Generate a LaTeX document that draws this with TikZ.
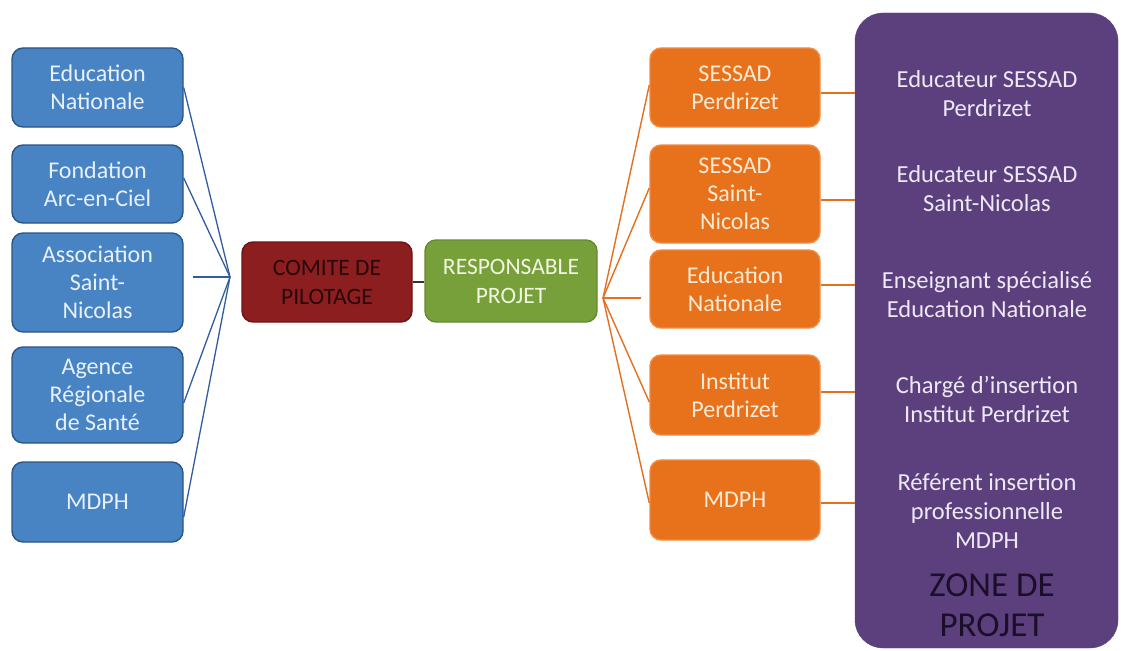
\documentclass[tikz,border=0pt]{standalone}
\usepackage{fontspec}
\setmainfont{Carlito}
\definecolor{bfill}{RGB}{72,132,196}
\definecolor{bdraw}{RGB}{44,84,134}
\definecolor{btext}{RGB}{232,240,248}
\definecolor{rfill}{RGB}{140,30,32}
\definecolor{rdraw}{RGB}{110,20,22}
\definecolor{rtext}{RGB}{40,8,8}
\definecolor{gfill}{RGB}{120,160,58}
\definecolor{gtext}{RGB}{240,246,224}
\definecolor{ofill}{RGB}{232,114,28}
\definecolor{odraw}{RGB}{240,140,70}
\definecolor{otext}{RGB}{252,234,212}
\definecolor{pfill}{RGB}{92,64,126}
\definecolor{ptext}{RGB}{238,232,244}
\definecolor{ztext}{RGB}{26,14,40}
\definecolor{bline}{RGB}{48,92,160}
\definecolor{oline}{RGB}{226,112,32}
\begin{document}
\begin{tikzpicture}[x=1pt,y=-1pt,
  box/.style={rounded corners=11pt, line width=1.4pt, align=center, inner sep=0pt,
    font=\fontsize{24}{28}\selectfont},
  bluebox/.style={box, fill=bfill, draw=bdraw, text=btext, minimum width=171pt},
  redbox/.style={box, fill=rfill, draw=rdraw, text=rtext, minimum width=170pt, minimum height=80pt,
    font=\fontsize{23.5}{29}\selectfont},
  greenbox/.style={box, fill=gfill, draw=gfill!85!black, text=gtext, minimum width=172pt, minimum height=82pt,
    font=\fontsize{23.5}{29}\selectfont},
  orangebox/.style={box, fill=ofill, draw=odraw, text=otext, minimum width=170pt},
  ptxt/.style={align=center, text=ptext, font=\fontsize{24.5}{29}\selectfont, inner sep=0pt},
  bconn/.style={draw=bline, line width=1.3pt},
  oconn/.style={draw=oline, line width=1.4pt},
]
\useasboundingbox (0,0) rectangle (1126,650);

% left column
\node[bluebox, minimum height=79pt] (b1) at (97.5,87.5) {Education\\Nationale};
\node[bluebox, minimum height=78pt] (b2) at (97.5,184) {Fondation\\Arc-en-Ciel};
\node[bluebox, minimum height=99pt] (b3) at (97.5,282.5) {Association\\Saint-\\Nicolas};
\node[bluebox, minimum height=96pt] (b4) at (97.5,395) {Agence\\Régionale\\de Santé};
\node[bluebox, minimum height=80pt] (b5) at (97.5,502) {MDPH};

\coordinate (bh) at (230,277);
\draw[bconn] (bh) -- ([yshift=0pt]b1.east);
\draw[bconn] (bh) -- ([yshift=6pt]b2.east);
\draw[bconn] (bh) -- ([xshift=9pt]b3.east |- bh);
\draw[bconn] (bh) -- ([yshift=-8pt]b4.east);
\draw[bconn] (bh) -- ([yshift=-15pt]b5.east);

% center
\node[redbox] (cp) at (327,282) {COMITE DE\\PILOTAGE};
\node[greenbox] (rp) at (511,281) {RESPONSABLE\\PROJET};
\draw[draw=black!80, line width=1.4pt] (cp.east) -- (rp.west |- cp.east);

% purple zone
\node[draw=pfill, fill=pfill, rounded corners=28pt, minimum width=263pt, minimum height=635pt, inner sep=0pt]
  (zone) at (986.5,330.5) {};

% orange column
\node[orangebox, minimum height=79pt] (o1) at (735,87.5) {SESSAD\\Perdrizet};
\node[orangebox, minimum height=98pt] (o2) at (735,194) {SESSAD\\Saint-\\Nicolas};
\node[orangebox, minimum height=78pt] (o3) at (735,289) {Education\\Nationale};
\node[orangebox, minimum height=80pt] (o4) at (735,395) {Institut\\Perdrizet};
\node[orangebox, minimum height=80pt] (o5) at (735,500) {MDPH};

\coordinate (oh) at (603,298);
\draw[oconn] (oh) -- ([yshift=2.5pt]o1.west);
\draw[oconn] (oh) -- ([yshift=6pt]o2.west);
\draw[oconn] (oh) -- ([xshift=-8pt]o3.west |- oh);
\draw[oconn] (oh) -- ([yshift=-7pt]o4.west);
\draw[oconn] (oh) -- ([yshift=-3pt]o5.west);

\draw[oconn] ([yshift=-5.5pt]o1.east) -- ([yshift=-5.5pt]o1.east -| zone.west);
\draw[oconn] ([yshift=-6pt]o2.east) -- ([yshift=-6pt]o2.east -| zone.west);
\draw[oconn] ([yshift=4pt]o3.east) -- ([yshift=4pt]o3.east -| zone.west);
\draw[oconn] ([yshift=3pt]o4.east) -- ([yshift=3pt]o4.east -| zone.west);
\draw[oconn] ([yshift=-3pt]o5.east) -- ([yshift=-3pt]o5.east -| zone.west);

% purple texts
\node[ptxt] (t1) at (987,94) {Educateur SESSAD\\Perdrizet};
\node[ptxt] (t2) at (987,189) {Educateur SESSAD\\Saint-Nicolas};
\node[ptxt] (t3) at (987,295) {Enseignant spécialisé\\Education Nationale};
\node[ptxt] (t4) at (987,399) {Chargé d’insertion\\Institut Perdrizet};
\node[ptxt] (t5) at (987,511) {Référent insertion\\professionnelle\\MDPH};
\node[align=center, text=ztext, font=\fontsize{35}{40}\selectfont, inner sep=0pt] (zt) at (992,605) {ZONE DE\\PROJET};
\end{tikzpicture}
\end{document}
